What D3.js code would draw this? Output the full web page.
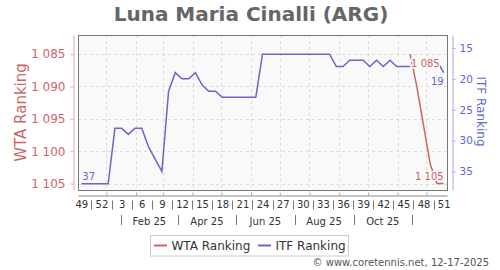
<!DOCTYPE html>
<html>
<head>
<meta charset="utf-8">
<script src="https://cdn.jsdelivr.net/npm/d3@7"></script>
<style>
  body { margin: 0; background: #fff; }
  text { font-family: "DejaVu Sans", sans-serif; }
</style>
</head>
<body>
<svg id="chart" width="500" height="270"></svg>
<script>
// week numbers shown on the axis (every 3rd week, 2024-w49 .. 2025-w51)
var weekLabels = [49, 52, 3, 6, 9, 12, 15, 18, 21, 24, 27, 30, 33, 36, 39, 42, 45, 48, 51]

// weekly rankings, one value per week starting 2024-w49 (null = no ranking)
var itfRank = [37, 37, 37, 37, 37, 28, 28, 29, 28, 28, 31, 33, 35, 22, 19, 20, 20, 19, 21, 22,
               22, 23, 23, 23, 23, 23, 23, 16, 16, 16, 16, 16, 16, 16, 16, 16, 16, 16, 18, 18,
               17, 17, 17, 18, 17, 18, 17, 18, 18, 18, null, null, null, 17, 19]
var wtaRank = []
for (var i = 0; i < 49; i++) wtaRank.push(null)
wtaRank = wtaRank.concat([1085, 1090, 1096, 1102, 1105, 1105])

var wtaTicks = [1085, 1090, 1095, 1100, 1105]
var itfTicks = [15, 20, 25, 30, 35]
var monthLabels = ["Feb 25", "Apr 25", "Jun 25", "Aug 25", "Oct 25"]
var seriesNames = ["WTA Ranking", "ITF Ranking"]

var wtaColor = "#cc6666"
var itfColor = "#6666cc"

var dimensions = {
  width: 500,
  height: 270,
  left: 78,
  right: 447,
  top: 35,
  bottom: 190
}

var day = 24 * 3600 * 1000
var start = new Date(2024, 11, 6)
var dateOf = i => new Date(start.getTime() + i * 7 * day)

var svg = d3.select("#chart")

var fmt = d3.formatLocale({decimal: ".", thousands: " ", grouping: [3], currency: ["", ""]}).format(",d")

var xScale = d3.scaleTime()
  .domain([dateOf(-0.5), dateOf(54.5)])
  .range([dimensions.left, dimensions.right])

var yWta = d3.scaleLinear()
  .domain([1082.05, 1106])
  .range([dimensions.top, dimensions.bottom])

var yItf = d3.scaleLinear()
  .domain([12.9, 38])
  .range([dimensions.top, dimensions.bottom])

// title
svg.append("text")
  .attr("x", 251).attr("y", 20.5)
  .attr("text-anchor", "middle")
  .style("font-size", "20px").style("font-weight", "bold")
  .attr("fill", "#666")
  .text("Luna Maria Cinalli (ARG)")

// plot background
svg.append("rect")
  .attr("x", dimensions.left + 0.5).attr("y", dimensions.top + 0.5)
  .attr("width", dimensions.right - dimensions.left).attr("height", dimensions.bottom - dimensions.top)
  .attr("fill", "#f9f9f9")

var monthStarts = d3.timeMonth.range(new Date(2025, 0, 1), new Date(2025, 11, 2))

// grid
var grid = svg.append("g").attr("stroke", "#dcdcdc").attr("stroke-dasharray", "3,3")
grid.selectAll(".gx").data(monthStarts).enter().append("line")
  .attr("x1", d => Math.round(xScale(d)) + 0.5).attr("x2", d => Math.round(xScale(d)) + 0.5)
  .attr("y1", dimensions.top).attr("y2", dimensions.bottom)
grid.selectAll(".gy").data(wtaTicks).enter().append("line")
  .attr("x1", dimensions.left).attr("x2", dimensions.right)
  .attr("y1", d => Math.round(yWta(d)) + 0.5).attr("y2", d => Math.round(yWta(d)) + 0.5)

// lines
var itfLine = d3.line()
  .defined(d => d != null)
  .x((d, i) => xScale(dateOf(i)))
  .y(d => yItf(d))
var wtaLine = d3.line()
  .defined(d => d != null)
  .x((d, i) => xScale(dateOf(i)))
  .y(d => yWta(d))

svg.append("path").datum(itfRank)
  .attr("d", itfLine).attr("fill", "none")
  .attr("stroke", itfColor).attr("stroke-width", 1.5)
svg.append("path").datum(wtaRank)
  .attr("d", wtaLine).attr("fill", "none")
  .attr("stroke", wtaColor).attr("stroke-width", 1.5)

// end labels
var firstItf = 0, lastItf = itfRank.length - 1
var firstWta = wtaRank.findIndex(d => d != null), lastWta = wtaRank.length - 1
var endLabels = [
  {x: xScale(dateOf(firstItf)) + 1, y: yItf(itfRank[firstItf]) - 4, a: "start", t: itfRank[firstItf], c: itfColor},
  {x: xScale(dateOf(lastItf)), y: yItf(itfRank[lastItf]) + 12, a: "end", t: itfRank[lastItf], c: itfColor},
  {x: xScale(dateOf(firstWta)) + 1, y: yWta(wtaRank[firstWta]) + 13, a: "start", t: fmt(wtaRank[firstWta]), c: wtaColor},
  {x: xScale(dateOf(lastWta)), y: yWta(wtaRank[lastWta]) - 4, a: "end", t: fmt(wtaRank[lastWta]), c: wtaColor}
]
svg.append("g").selectAll("text").data(endLabels).enter().append("text")
  .attr("x", d => d.x).attr("y", d => d.y)
  .attr("text-anchor", d => d.a)
  .attr("fill", d => d.c)
  .attr("stroke", "#f9f9f9").attr("stroke-width", 3).attr("paint-order", "stroke")
  .style("font-size", "10px")
  .text(d => d.t)

// plot border
svg.append("rect")
  .attr("x", dimensions.left + 0.5).attr("y", dimensions.top + 0.5)
  .attr("width", dimensions.right - dimensions.left).attr("height", dimensions.bottom - dimensions.top)
  .attr("fill", "none").attr("stroke", "#777")

// left axis (WTA)
var yAxisL = svg.append("g")
  .attr("transform", "translate(73.5,0)")
  .call(d3.axisLeft(yWta).tickValues(wtaTicks).tickFormat(fmt).tickSize(3).tickSizeOuter(0).tickPadding(5))
yAxisL.select(".domain").attr("stroke", "#e0a8a8")
yAxisL.selectAll(".tick line").attr("stroke", "#e0a8a8")
yAxisL.selectAll(".tick text").attr("fill", wtaColor).style("font-size", "12px").style("font-family", "DejaVu Sans")

// right axis (ITF)
var yAxisR = svg.append("g")
  .attr("transform", "translate(452.5,0)")
  .call(d3.axisRight(yItf).tickValues(itfTicks).tickSize(3).tickSizeOuter(0).tickPadding(4))
yAxisR.select(".domain").attr("stroke", "#a8a8e0")
yAxisR.selectAll(".tick line").attr("stroke", "#a8a8e0")
yAxisR.selectAll(".tick text").attr("fill", itfColor).style("font-size", "10.5px").style("font-family", "DejaVu Sans")

// axis titles
svg.append("text")
  .attr("transform", "translate(25.5,112.5) rotate(-90)")
  .attr("text-anchor", "middle").attr("fill", wtaColor)
  .style("font-size", "15px").text(seriesNames[0])
svg.append("text")
  .attr("transform", "translate(477,111.5) rotate(90)")
  .attr("text-anchor", "middle").attr("fill", itfColor)
  .style("font-size", "12px").text(seriesNames[1])

// x axis line with month ticks
var xAxis = svg.append("g")
  .attr("transform", "translate(0,195.5)")
  .call(d3.axisBottom(xScale).tickValues(monthStarts).tickFormat("").tickSize(-3).tickSizeOuter(0))
xAxis.select(".domain").attr("stroke", "#888")
xAxis.selectAll(".tick line").attr("stroke", "#aaa")

// week labels + separators
var weekDates = weekLabels.map((d, k) => dateOf(k * 3))
var weekAxis = svg.append("g")
  .attr("transform", "translate(0,198)")
  .call(d3.axisBottom(xScale).tickValues(weekDates).tickFormat((d, k) => weekLabels[k]).tickSize(0).tickPadding(0))
weekAxis.select(".domain").remove()
weekAxis.selectAll(".tick text").attr("fill", "#333").attr("dy", "10px").style("font-size", "10px").style("font-family", "DejaVu Sans")

var weekSeps = weekLabels.slice(1).map((d, k) => dateOf(k * 3 + 1.5))
svg.append("g").attr("stroke", "#777")
  .selectAll("line").data(weekSeps).enter().append("line")
  .attr("x1", d => Math.round(xScale(d)) + 0.5).attr("x2", d => Math.round(xScale(d)) + 0.5)
  .attr("y1", 200.5).attr("y2", 209.5)

// month labels + separators
var midMonth = m => new Date((new Date(2025, m, 1).getTime() + new Date(2025, m + 1, 1).getTime()) / 2)
var monthSeps = [0, 2, 4, 6, 8, 10].map(midMonth)
svg.append("g").attr("stroke", "#777")
  .selectAll("line").data(monthSeps).enter().append("line")
  .attr("x1", d => Math.round(xScale(d)) + 0.5).attr("x2", d => Math.round(xScale(d)) + 0.5)
  .attr("y1", 215).attr("y2", 225)
svg.append("g").selectAll("text").data(monthLabels).enter().append("text")
  .attr("x", (d, k) => (xScale(monthSeps[k]) + xScale(monthSeps[k + 1])) / 2)
  .attr("y", 224.5)
  .attr("text-anchor", "middle").attr("fill", "#333")
  .style("font-size", "10px")
  .text(d => d)

// legend
var legend = svg.append("g")
legend.append("rect")
  .attr("x", 150.5).attr("y", 235.5).attr("width", 198).attr("height", 20.5)
  .attr("fill", "#fff").attr("stroke", "#ccc")
var legendX = [154, 258]
var legendColors = [wtaColor, itfColor]
seriesNames.forEach(function (name, k) {
  legend.append("line")
    .attr("x1", legendX[k]).attr("x2", legendX[k] + 13)
    .attr("y1", 245.5).attr("y2", 245.5)
    .attr("stroke", legendColors[k]).attr("stroke-width", 2)
  legend.append("text")
    .attr("x", legendX[k] + 17.5).attr("y", 250)
    .attr("fill", "#333").style("font-size", "12px")
    .text(name)
})

// source
svg.append("text")
  .attr("x", 489).attr("y", 266)
  .attr("text-anchor", "end").attr("fill", "#555")
  .style("font-size", "10px")
  .text("©  www.coretennis.net, 12-17-2025")
</script>
</body>
</html>
